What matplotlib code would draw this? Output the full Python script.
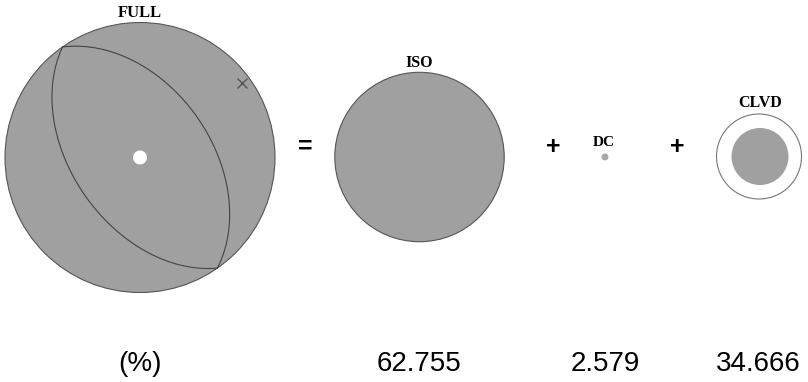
import numpy as np
import matplotlib.pyplot as plt
from matplotlib.patches import Circle

# decomposition of the moment tensor (%)
components = ['ISO', 'DC', 'CLVD']
percent = [62.755, 2.579, 34.666]

# nodal planes of the full solution (strike, dip in degrees)
strikes = [145, 325]
dips = [49, 47]
# axis marked with x (azimuth, plunge)
x_axis_az, x_axis_pl = 54, 7

GRAY = '#a0a0a0'
EDGE = '#555555'

fig = plt.figure(figsize=(8.08, 3.82), dpi=100)
ax = fig.add_axes([0, 0, 1, 1])
ax.set_xlim(0, 808)
ax.set_ylim(382, 0)
ax.set_aspect('equal')
ax.axis('off')


def project(az, pl, cx, cy, R):
    # lower hemisphere, equal area
    r = R * np.sqrt(2) * np.sin(np.radians(90 - pl) / 2)
    return cx + r * np.sin(np.radians(az)), cy - r * np.cos(np.radians(az))


# FULL beachball
cx, cy, R = 140, 157.5, 135
ax.add_patch(Circle((cx, cy), R, facecolor=GRAY, edgecolor=EDGE, lw=0.8))
lam = np.linspace(0, np.pi, 200)
for s, d in zip(strikes, dips):
    dr = np.radians(d)
    pl = np.degrees(np.arcsin(np.sin(dr) * np.sin(lam)))
    az = s + np.degrees(np.arctan2(np.cos(dr) * np.sin(lam), np.cos(lam)))
    x, y = project(az, pl, cx, cy, R)
    ax.plot(x, y, color='#444444', lw=0.8)
ax.add_patch(Circle((cx, cy), 7, facecolor='white', edgecolor='none'))
mx, my = project(x_axis_az, x_axis_pl, cx, cy, R)
ax.plot(mx, my, marker='x', color='#555555', ms=7, mew=1)
ax.text(cx, 13, 'FULL', ha='center', va='center', family='Liberation Serif',
        weight='bold', fontsize=12)

# ISO
ix, iy = 419.5, 157
ax.add_patch(Circle((ix, iy), percent[0] / 100 * R, facecolor=GRAY,
                    edgecolor=EDGE, lw=0.8))
ax.text(ix, 63, 'ISO', ha='center', va='center', family='Liberation Serif',
        weight='bold', fontsize=11.5)

# DC
dx, dy = 605, 157
ax.add_patch(Circle((dx, dy), percent[1] / 100 * R, facecolor='#a8a8a8',
                    edgecolor='none'))
ax.text(dx - 1, 143, 'DC', ha='center', va='center', family='Liberation Serif',
        weight='bold', fontsize=11)

# CLVD
clx, cly = 759, 156.5
ax.add_patch(Circle((clx, cly), 42.5, facecolor='white', edgecolor='#777777', lw=0.8))
ax.add_patch(Circle((clx + 1, cly), 28.5, facecolor=GRAY, edgecolor='none'))
ax.text(clx + 1, 103, 'CLVD', ha='center', va='center', family='Liberation Serif',
        weight='bold', fontsize=11.5)

# operators
for ox, sym in [(305, '='), (553, '+'), (677, '+')]:
    ax.text(ox, 147, sym, ha='center', va='center', family='Liberation Sans',
            weight='bold', fontsize=18)

# percentages row
ax.text(140, 364, '(%)', ha='center', va='center', family='Liberation Sans', fontsize=20)
for xpos, val in zip([419, 605, 758], percent):
    ax.text(xpos, 364, f'{val:.3f}', ha='center', va='center',
            family='Liberation Sans', fontsize=20)

fig.savefig('out.png', dpi=100)
